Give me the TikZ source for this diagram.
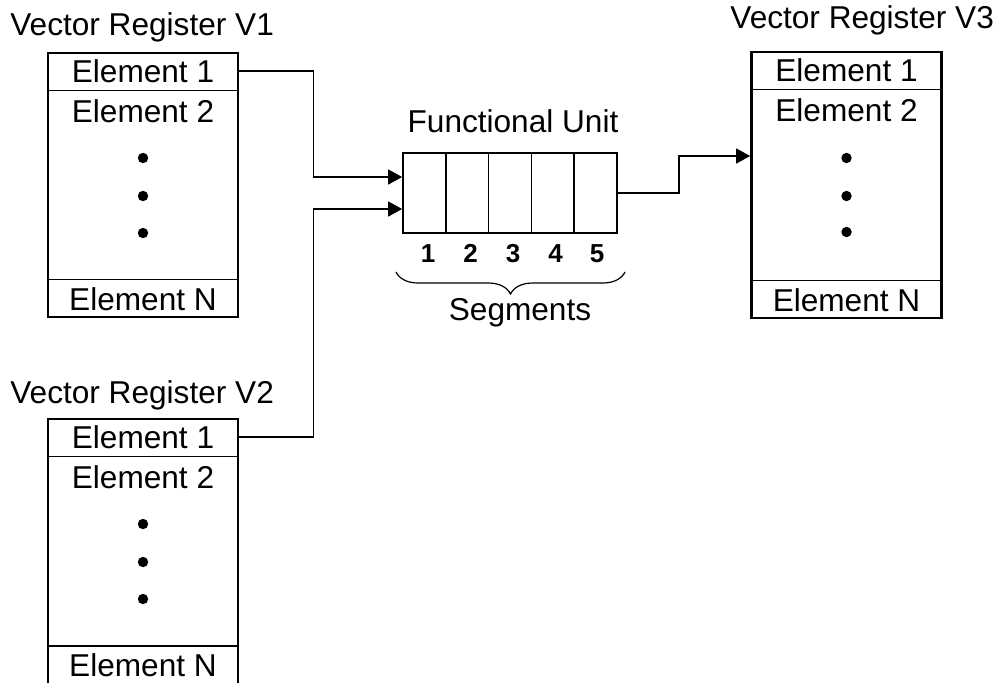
\documentclass[tikz,border=0pt]{standalone}
\usepackage{fontspec}
\setmainfont{Liberation Sans}
\usetikzlibrary{arrows.meta,decorations.pathreplacing}

\begin{document}
\begin{tikzpicture}[x=0.5pt,y=-0.5pt,
  every node/.style={font=\fontsize{15.8pt}{18pt}\selectfont},
  reg/.style={draw, line width=1.3pt, minimum width=95pt, inner sep=0pt},
  row/.style={minimum width=95pt, minimum height=19pt, inner sep=0pt},
  lbl/.style={inner sep=0pt},
  sep/.style={line width=0.75pt},
  dotn/.style={circle, fill, minimum size=5.2pt, inner sep=0pt},
  title/.style={anchor=base west, inner sep=0pt},
  seg/.style={draw, line width=0.85pt, minimum width=21.4pt, minimum height=40pt, inner sep=0pt},
  num/.style={anchor=base, inner sep=0pt, font=\bfseries\fontsize{13pt}{15pt}\selectfont},
  conn/.style={line width=0.65pt, -{Triangle[length=7pt,width=7.5pt]}},
  brace/.style={decorate, decoration={brace, amplitude=11pt}, line width=0.6pt}
]
\clip (0,0) rectangle (994,682);

% ---- Vector Register V1 ----
\node[title] (t1) at (10,35) {Vector Register V1};
\node[reg, minimum height=132pt] (v1) at (143,185) {};
\node[row, anchor=north] (v1a) at (v1.north) {Element 1};
\draw[sep] (v1a.south west) -- (v1a.south east);
\node[lbl, anchor=base] (v1b) at (143,122) {Element 2};
\node[dotn] (v1d1) at (143,158) {};
\node[dotn] (v1d2) at (143,196) {};
\node[dotn] (v1d3) at (143,233) {};
\node[row, anchor=south] (v1n) at (v1.south) {Element N};
\draw[sep] (v1n.north west) -- (v1n.north east);

% ---- Vector Register V2 ----
\node[title] (t2) at (10,403) {Vector Register V2};
\node[reg, minimum height=134pt] (v2) at (143,553) {};
\node[row, anchor=north] (v2a) at (v2.north) {Element 1};
\draw[sep] (v2a.south west) -- (v2a.south east);
\node[lbl, anchor=base] (v2b) at (143,488) {Element 2};
\node[dotn] (v2d1) at (143,524) {};
\node[dotn] (v2d2) at (143,562) {};
\node[dotn] (v2d3) at (143,599) {};
\node[row, anchor=north] (v2n) at (143,646) {Element N};
\draw[sep] (v2n.north west) -- (v2n.north east);

% ---- Vector Register V3 ----
\node[title] (t3) at (730,28) {Vector Register V3};
\node[reg, minimum height=133pt] (v3) at (846.5,185) {};
\node[row, anchor=north] (v3a) at (v3.north) {Element 1};
\draw[sep] (v3a.south west) -- (v3a.south east);
\node[lbl, anchor=base] (v3b) at (846.5,121) {Element 2};
\node[dotn] (v3d1) at (846.5,158) {};
\node[dotn] (v3d2) at (846.5,196) {};
\node[dotn] (v3d3) at (846.5,232) {};
\node[row, anchor=south] (v3n) at (v3.south) {Element N};
\draw[sep] (v3n.north west) -- (v3n.north east);

% ---- Functional unit: five pipeline segments ----
\node[anchor=base] (fut) at (513,132) {Functional Unit};
\node[seg] (s1) at (424.4,193) {};
\node[seg] (s2) at (467.2,193) {};
\node[seg] (s3) at (510,193) {};
\node[seg] (s4) at (552.8,193) {};
\node[seg] (s5) at (595.6,193) {};
\node[num] (n1) at (428,262) {1};
\node[num] (n2) at (470.5,262) {2};
\node[num] (n3) at (513,262) {3};
\node[num] (n4) at (555.5,262) {4};
\node[num] (n5) at (597,262) {5};
\coordinate (bl) at (396,272);
\coordinate (br) at (625,272);
\draw[brace] (br) -- (bl);
\node[anchor=base] (segt) at (520,320) {Segments};

% ---- Data paths ----
\coordinate (in1) at ([yshift=8pt]s1.west);
\coordinate (in2) at ([yshift=-8pt]s1.west);
\coordinate (in3) at ([yshift=14.5pt]v3.west);
\draw[conn] (v1a.east) -- ++(75,0) |- (in1);
\draw[conn] (v2a.east) -- ++(75,0) |- (in2);
\draw[conn] (s5.east) -- ++(61,0) |- (in3);
\end{tikzpicture}
\end{document}
